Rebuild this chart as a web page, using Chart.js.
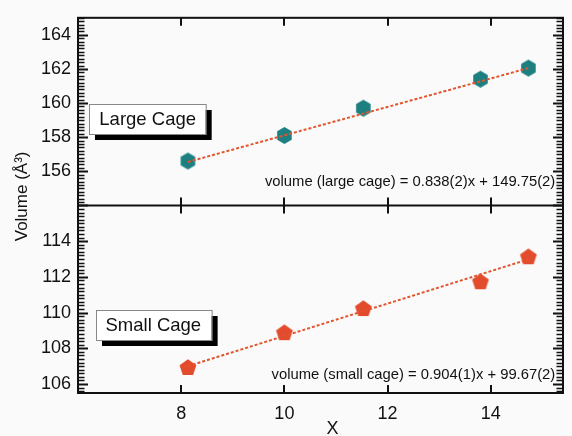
<!DOCTYPE html>
<html>
<head>
<meta charset="utf-8">
<script src="https://cdn.jsdelivr.net/npm/chart.js@4"></script>
<style>
  body { margin: 0; background: #fafafa; }
  canvas { display: block; }
</style>
</head>
<body>
<canvas id="myChart" width="572" height="436"></canvas>
<script>
// x positions (composition) for both cages
const xValues = [8.13, 10.0, 11.53, 13.8, 14.73];
const largeCage = [156.6, 158.1, 159.7, 161.4, 162.05];
const smallCage = [106.9, 108.85, 110.2, 111.7, 113.1];

// dotted fit lines, end points
const largeFitX = [8.13, 14.73];
const largeFitY = [156.55, 162.05];
const smallFitX = [8.13, 14.73];
const smallFitY = [107.0, 112.98];

const xTicks = [8, 10, 12, 14];
const largeTicks = [156, 158, 160, 162, 164];
const smallTicks = [106, 108, 110, 112, 114];

const largeLabel = "Large Cage";
const smallLabel = "Small Cage";
const largeEq = "volume (large cage) = 0.838(2)x + 149.75(2)";
const smallEq = "volume (small cage) = 0.904(1)x + 99.67(2)";
const xTitle = "X";
const yTitle = "Volume (Å³)";

const FONT = "'Liberation Sans', Arial, sans-serif";
const TEAL = "#1d7f80";
const ORANGE = "#e24b2b";
const LINE = "#e2552f";

// hexagon / pentagon markers
function makeMarker(sides, radius, color) {
  const size = Math.ceil(radius * 2) + 2;
  const c = document.createElement("canvas");
  c.width = c.height = size;
  const g = c.getContext("2d");
  g.fillStyle = color;
  g.beginPath();
  for (let i = 0; i < sides; i++) {
    const a = -Math.PI / 2 + (i * 2 * Math.PI) / sides;
    const px = size / 2 + radius * Math.cos(a);
    const py = size / 2 + radius * Math.sin(a);
    if (i) g.lineTo(px, py);
    else g.moveTo(px, py);
  }
  g.closePath();
  g.fill();
  return c;
}

function points(xs, ys) {
  return xs.map((x, i) => ({ x: x, y: ys[i] }));
}

// annotation placement (data coordinates)
const boxes = [
  { text: largeLabel, axis: "yL", x: 7.35, y: 159.08 },
  { text: smallLabel, axis: "yS", x: 7.46, y: 109.32 },
];
const equations = [
  { text: largeEq, axis: "yL", x: 15.25, y: 155.36 },
  { text: smallEq, axis: "yS", x: 15.25, y: 106.5 },
];

const framePlugin = {
  id: "frame",
  afterDatasetsDraw(chart) {
    const { ctx, chartArea: a, scales } = chart;
    const xs = scales.x;
    const mid = scales.yL.bottom;
    ctx.save();
    ctx.setLineDash([]);
    ctx.strokeStyle = "#111";
    ctx.lineWidth = 2;
    ctx.strokeRect(a.left, a.top, a.width, a.height);
    ctx.beginPath();
    ctx.moveTo(a.left, mid);
    ctx.lineTo(a.right, mid);
    ctx.stroke();

    // y ticks: minor every 0.2, major every 2, both sides, pointing inward
    const major = new Path2D();
    const minor = new Path2D();
    [scales.yL, scales.yS].forEach((s) => {
      const k0 = Math.ceil(s.min * 5 - 1e-6);
      const k1 = Math.floor(s.max * 5 + 1e-6);
      for (let k = k0; k <= k1; k++) {
        const py = Math.round(s.getPixelForValue(k / 5)) + 0.5;
        const p = k % 10 === 0 ? major : minor;
        const len = k % 10 === 0 ? 10 : 6.5;
        p.moveTo(a.left, py);
        p.lineTo(a.left + len, py);
        p.moveTo(a.right, py);
        p.lineTo(a.right - len, py);
      }
    });
    // x ticks on top, divider and bottom
    xTicks.forEach((v) => {
      const px = Math.round(xs.getPixelForValue(v));
      major.moveTo(px, a.top);
      major.lineTo(px, a.top + 8);
      major.moveTo(px, mid - 8);
      major.lineTo(px, mid + 8);
      major.moveTo(px, a.bottom);
      major.lineTo(px, a.bottom - 8);
    });
    ctx.lineWidth = 1.5;
    ctx.stroke(minor);
    ctx.lineWidth = 2;
    ctx.stroke(major);

    // labelled boxes with drop shadow
    ctx.font = "18.5px " + FONT;
    ctx.textAlign = "center";
    ctx.textBaseline = "middle";
    boxes.forEach((b) => {
      const cx = xs.getPixelForValue(b.x);
      const cy = scales[b.axis].getPixelForValue(b.y);
      const w = ctx.measureText(b.text).width + 20;
      const h = 30;
      const l = Math.round(cx - w / 2), t = Math.round(cy - h / 2);
      ctx.fillStyle = "#000";
      ctx.fillRect(l + 6, t + 6, w, h);
      ctx.fillStyle = "#fff";
      ctx.fillRect(l, t, w, h);
      ctx.strokeStyle = "#888";
      ctx.lineWidth = 1;
      ctx.strokeRect(l + 0.5, t + 0.5, w, h);
      ctx.fillStyle = "#111";
      ctx.fillText(b.text, cx, cy + 1);
    });

    // fit equations
    ctx.font = "14.8px " + FONT;
    ctx.textAlign = "right";
    equations.forEach((e) => {
      ctx.fillText(e.text, xs.getPixelForValue(e.x), scales[e.axis].getPixelForValue(e.y));
    });

    // axis titles
    ctx.font = "18px " + FONT;
    ctx.textAlign = "center";
    ctx.fillText(xTitle, (a.left + a.right) / 2 + 12, a.bottom + 36);
    ctx.translate(a.left - 56, mid - 9);
    ctx.rotate(-Math.PI / 2);
    ctx.font = "17px " + FONT;
    ctx.fillText(yTitle, 0, 0);
    ctx.restore();
  },
};

const tickFont = { family: FONT, size: 18 };

function yAxis(min, max, tickValues) {
  return {
    type: "linear",
    position: "left",
    stack: "v",
    stackWeight: 1,
    min: min,
    max: max,
    afterBuildTicks: (s) => {
      s.ticks = tickValues.map((v) => ({ value: v }));
    },
    afterFit: (s) => {
      s.width = 78;
    },
    grid: { display: false, drawTicks: false },
    border: { display: false },
    ticks: { font: tickFont, color: "#111", padding: 7 },
  };
}

const ctx = document.getElementById("myChart");
new Chart(ctx, {
  type: "scatter",
  data: {
    datasets: [
      {
        label: "large fit",
        data: points(largeFitX, largeFitY),
        yAxisID: "yL",
        showLine: true,
        borderColor: LINE,
        borderWidth: 2,
        borderDash: [3, 2],
        pointRadius: 0,
      },
      {
        label: "small fit",
        data: points(smallFitX, smallFitY),
        yAxisID: "yS",
        showLine: true,
        borderColor: LINE,
        borderWidth: 2,
        borderDash: [3, 2],
        pointRadius: 0,
      },
      {
        label: largeLabel,
        data: points(xValues, largeCage),
        yAxisID: "yL",
        pointStyle: makeMarker(6, 8.4, TEAL),
        pointRadius: 8,
      },
      {
        label: smallLabel,
        data: points(xValues, smallCage),
        yAxisID: "yS",
        pointStyle: makeMarker(5, 8.8, ORANGE),
        pointRadius: 8,
      },
    ],
  },
  options: {
    responsive: false,
    animation: false,
    layout: { padding: { top: 14, right: 4, left: 0, bottom: 0 } },
    plugins: { legend: { display: false }, tooltip: { enabled: false } },
    scales: {
      x: {
        type: "linear",
        min: 6,
        max: 15.4,
        afterBuildTicks: (s) => {
          s.ticks = xTicks.map((v) => ({ value: v }));
        },
        afterFit: (s) => {
          s.height = 43;
        },
        grid: { display: false, drawTicks: false },
        border: { display: false },
        ticks: { font: tickFont, color: "#111", padding: 10 },
      },
      yS: yAxis(105.5, 116, smallTicks),
      yL: yAxis(154, 165, largeTicks),
    },
  },
  plugins: [framePlugin],
});
</script>
</body>
</html>
